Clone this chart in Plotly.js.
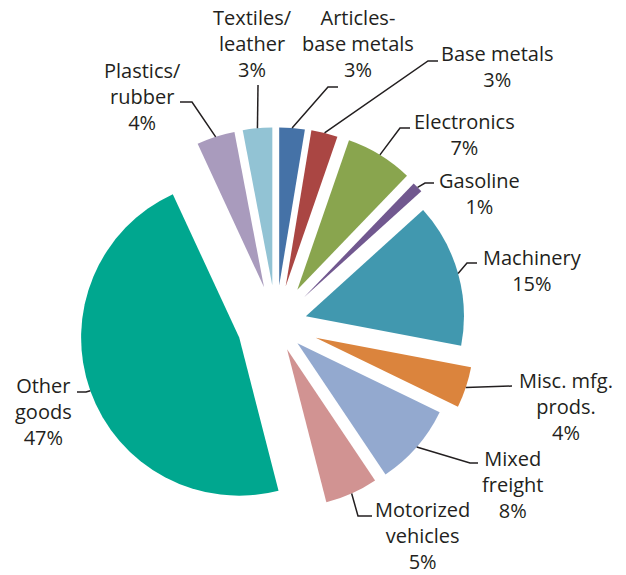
<!DOCTYPE html>
<html>
<head>
<meta charset="utf-8">
<script src="https://cdn.plot.ly/plotly-3.0.1.min.js"></script>
<style>html,body{margin:0;padding:0;background:#fff;}#chart{width:626px;height:575px;}</style>
</head>
<body>
<div id="chart"></div>
<script>
// ---- data ----
const categories = ['Articles-base metals','Base metals','Electronics','Gasoline','Machinery','Misc. mfg. prods.','Mixed freight','Motorized vehicles','Other goods','Plastics/rubber','Textiles/leather'];
const shares = [2.6, 2.7, 6.9, 1.1, 14.7, 4.2, 8.4, 5.4, 47.1, 3.9, 3.0];
const labelNames = ['Articles-<br>base metals','Base metals','Electronics','Gasoline','Machinery','Misc. mfg.<br>prods.','Mixed<br>freight','Motorized<br>vehicles','Other<br>goods','Plastics/<br>rubber','Textiles/<br>leather'];

// ---- style ----
const colors = ['#4572A7','#AA4643','#89A54E','#71588F','#4198AF','#DB843D','#93A9CF','#D19392','#00A78F','#A99BBD','#92C3D4'];
const pulls = [0.247,0.25,0.258,0.247,0.196,0.265,0.18,0.171,0.247,0.247,0.247];
// label centres (px) and leader elbow / end points (px)
const labelPos = [[358,43],[497,67],[464,134],[479,194],[532,270],[566,406],[512,484],[423,535],[43,411],[142,97],[253,43]];
const elbows = [[328,87],[428,61],[400,128],[425,183],[467,263],[512,386],[470,463],[358,516],[86,392],[192,102],[258,85]];
const ends   = [[338,87],[438,61],[410,128],[434,183],[477,263],[512,386],[478,463],[372,516],[77,392],[180,102],[258,85]];

const W = 626, H = 575;
const CX = 276, CY = 324.5, HALF = 200;
const domX = [(CX-HALF)/W, (CX+HALF)/W];
const domY = [1-(CY+HALF)/H, 1-(CY-HALF)/H];
const maxPull = Math.max(...pulls);
const R = HALF/(1+maxPull);

const px = x => x/W, py = y => 1 - y/H;
const total = shares.reduce((a,b)=>a+b,0);
let cum = 0;
const shapes = [], annotations = [];
const textColor = '#231f20';
shares.forEach((v,i)=>{
  const mid = (cum + v/2)/total*2*Math.PI; cum += v;
  const dx = Math.sin(mid), dy = -Math.cos(mid);
  const off = pulls[i]*R;
  const sx = CX + dx*(off+R), sy = CY + dy*(off+R);
  const e = elbows[i], f = ends[i];
  shapes.push({type:'path', xref:'paper', yref:'paper',
    path:`M ${px(sx)} ${py(sy)} L ${px(e[0])} ${py(e[1])} L ${px(f[0])} ${py(f[1])}`,
    line:{color:textColor, width:1.5}});
  annotations.push({xref:'paper', yref:'paper', x:px(labelPos[i][0]), y:py(labelPos[i][1]),
    xanchor:'center', yanchor:'middle', showarrow:false, align:'center',
    text: labelNames[i] + '<br>' + Math.round(v) + '%',
    font:{family:'Open Sans, sans-serif', size:20, color:textColor}});
});

const trace = {
  type:'pie', labels:categories, values:shares, sort:false, direction:'clockwise', rotation:0,
  pull:pulls, marker:{colors:colors, line:{width:0}}, textinfo:'none', hoverinfo:'label+percent',
  domain:{x:domX, y:domY}, showlegend:false
};
Plotly.newPlot('chart',[trace],{
  width:W, height:H, margin:{l:0,r:0,t:0,b:0}, paper_bgcolor:'#fff', showlegend:false,
  shapes:shapes, annotations:annotations
},{displayModeBar:false, staticPlot:true});
</script>
</body>
</html>
